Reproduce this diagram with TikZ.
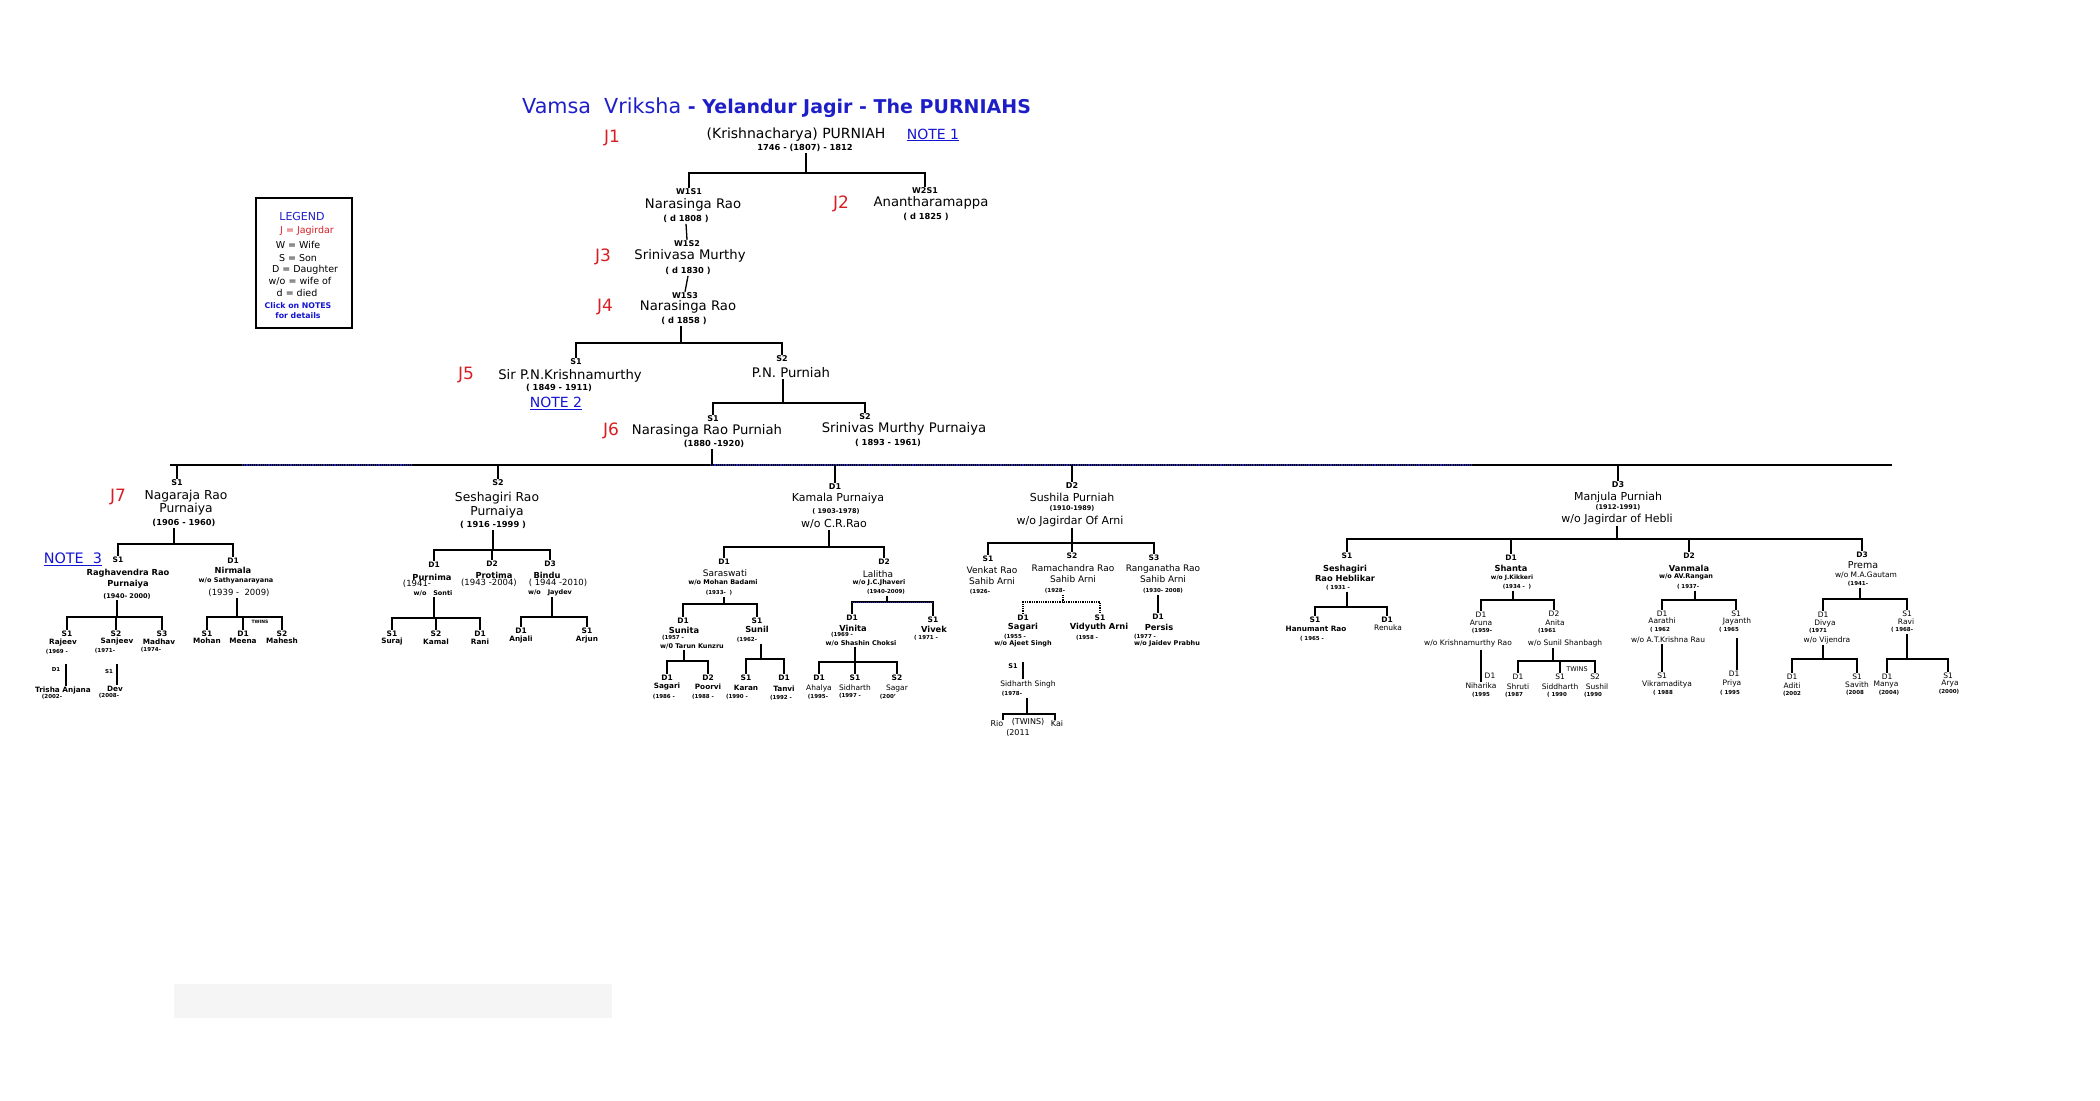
\documentclass[tikz,border=0pt]{standalone}
\usepackage{fontspec}
\setmainfont{DejaVu Sans}
\definecolor{ttlblue}{RGB}{30,30,200}
\definecolor{jred}{RGB}{215,30,35}
\definecolor{noteblue}{RGB}{20,20,210}
\definecolor{barblue}{RGB}{40,40,170}
\newcommand{\fsz}[1]{\fontsize{#1}{#1}\selectfont}
\tikzset{
  every node/.style={inner sep=1pt},
  ln/.style={line width=1.3pt},
  lnt/.style={line width=2.5pt},
  ttl/.style={text=ttlblue, font=\bfseries\fsz{19}},
  jg/.style={text=jred, font=\fsz{17}},
  note/.style={text=noteblue, font=\fsz{14}},
  lgd/.style={font=\fsz{9.5}},
  nmA/.style={font=\fsz{13.2}},
  tgA/.style={font=\bfseries\fsz{8}},
  yrA/.style={font=\bfseries\fsz{8.3}},
  nmB/.style={align=center, font=\fontsize{12.3}{13.5}\selectfont},
  nmK/.style={font=\fsz{11}},
  nmC/.style={align=center, font=\bfseries\fontsize{8.3}{11}\selectfont},
  nmR/.style={align=center, font=\fontsize{9}{11}\selectfont},
  tgB/.style={font=\bfseries\fsz{7.5}},
  yrB/.style={font=\bfseries\fsz{6.5}},
  wo/.style={font=\bfseries\fsz{6.5}},
  nmD/.style={font=\bfseries\fsz{7.3}},
  rgS/.style={font=\fsz{7.5}},
  yrC/.style={font=\bfseries\fsz{5.5}},
  dts/.style={font=\fsz{8.5}}
}
\begin{document}
\begin{tikzpicture}[x=1pt,y=-1pt]
\useasboundingbox (0,0) rectangle (2100,1100);
\fill[black!4] (174,984) rectangle (612,1018);

% title and J1
\node[ttl, anchor=west] (ttl) at (521,108) {{\mdseries\fsz{20.7}Vamsa\ \ Vriksha} - Yelandur Jagir - The PURNIAHS};
\node[jg] (j1) at (612,138) {J1};
\node[font=\fsz{14}] (k1) at (796,135) {(Krishnacharya) PURNIAH};
\node[note] (n1) at (933,135) {\underline{NOTE 1}};
\node[yrA] (k1y) at (805,148) {1746 - (1807) - 1812};
\coordinate (b1) at (806,173);

% legend
\draw[line width=2.5pt] (256,198) rectangle (352,328);
\node[text=ttlblue, font=\fsz{11}] (lg0) at (302,216) {LEGEND};
\node[lgd, text=jred] (lg1) at (307,231) {J = Jagirdar};
\node[lgd] (lg2) at (298,245) {W = Wife};
\node[lgd] (lg3) at (298,258) {S = Son};
\node[lgd] (lg4) at (305,270) {D = Daughter};
\node[lgd] (lg5) at (300,281) {w/o = wife of};
\node[lgd] (lg6) at (297,293) {d = died};
\node[text=noteblue, font=\bfseries\fsz{7.8}] (lg7) at (298,306) {Click on NOTES};
\node[text=noteblue, font=\bfseries\fsz{7.8}] (lg8) at (298,316) {for details};

% W1 line
\node[tgA] (w1s1) at (689,192) {W1S1};
\node[nmA] (nr1) at (693,205) {Narasinga Rao};
\node[yrA] (nr1y) at (686,219) {( d 1808 )};
\node[tgA] (w2s1) at (925,191) {W2S1};
\node[jg] (j2) at (841,204) {J2};
\node[nmA] (an) at (931,203) {Anantharamappa};
\node[yrA] (any) at (926,217) {( d 1825 )};
\draw[ln] (b1 |- k1y.south) -- (b1);
\draw[ln] (w1s1.north) |- (b1) -| (w2s1.north);

\node[tgA] (w1s2) at (687,244) {W1S2};
\node[jg] (j3) at (603,257) {J3};
\node[nmA] (sm) at (690,256) {Srinivasa Murthy};
\node[yrA] (smy) at (688,271) {( d 1830 )};
\draw[ln] (nr1y.south) -- (w1s2.north);

\node[tgA] (w1s3) at (685,296) {W1S3};
\node[jg] (j4) at (605,307) {J4};
\node[nmA] (nr2) at (688,307) {Narasinga Rao};
\node[yrA] (nr2y) at (684,321) {( d 1858 )};
\draw[ln] (smy.south) -- (w1s3.north);

\coordinate (b4) at (681,343);
\node[tgA] (j5s) at (576,362) {S1};
\node[tgA] (pns) at (782,359) {S2};
\draw[ln] (b4 |- nr2y.south) -- (b4);
\draw[ln] (j5s.north) |- (b4) -| (pns.north);
\node[jg] (j5) at (466,375) {J5};
\node[nmA] (pnk) at (570,376) {Sir P.N.Krishnamurthy};
\node[yrA] (pnky) at (559,388) {( 1849 - 1911)};
\node[note] (n2) at (556,403) {\underline{NOTE 2}};
\node[nmA] (pnp) at (791,373) {P.N. Purniah};

\coordinate (b5) at (783,403);
\node[tgA] (j6s) at (713,419) {S1};
\node[tgA] (smps) at (865,417) {S2};
\draw[ln] (b5 |- pnp.south) -- (b5);
\draw[ln] (j6s.north) |- (b5) -| (smps.north);
\node[jg] (j6) at (611,431) {J6};
\node[nmA] (nrp) at (707,431) {Narasinga Rao Purniah};
\node[yrA] (nrpy) at (714,444) {(1880 -1920)};
\node[nmA] (smp) at (904,429) {Srinivas Murthy Purnaiya};
\node[yrA] (smpy) at (888,443) {( 1893 - 1961)};

% main bar
\coordinate (b6) at (712,465);
\coordinate (bl) at (170,465);
\coordinate (br) at (1892,465);
\draw[lnt] (bl) -- (br);
\draw[barblue, line width=1.2pt, densely dotted] (242,465) -- (412,465);
\draw[barblue, line width=1.2pt, densely dotted] (710,465) -- (1472,465);
\draw[ln] (b6 |- nrpy.south) -- (b6);
\node[tgA] (j7s) at (177,483) {S1};
\node[tgA] (srs) at (498,483) {S2};
\node[tgA] (kms) at (835,487) {D1};
\node[tgA] (sus) at (1072,486) {D2};
\node[tgA] (mjs) at (1618,485) {D3};
\foreach \c in {j7s,srs,kms,sus,mjs}
  \draw[ln] (\c.north) -- (\c.north |- b6);

% J7 Nagaraja Rao
\node[jg] (j7) at (118,497) {J7};
\node[nmB] (ng) at (186,502.5) {Nagaraja Rao\\Purnaiya};
\node[yrA] (ngy) at (184,523) {(1906 - 1960)};
\coordinate (b7) at (174,544);
\node[tgB] (rgs) at (118,560) {S1};
\node[tgB] (nis) at (233,561) {D1};
\draw[lnt] (b7 |- ngy.south) -- (b7);
\draw[lnt] (rgs.north) |- (b7) -| (nis.north);
\node[note, font=\fsz{14.4}] (n3) at (73,559) {\underline{NOTE\ \ 3}};
\node[nmC] (rg) at (128,578.5) {Raghavendra Rao\\Purnaiya};
\node[yrB] (rgy) at (127,596) {(1940- 2000)};
\node[nmC] (ni) at (233,570) {Nirmala};
\node[wo] (niw) at (236,581) {w/o Sathyanarayana};
\node[dts] (niy) at (239,593) {(1939 -\ \ 2009)};

\coordinate (b8) at (117,617);
\node[tgB] (rjs) at (67,634) {S1};
\node[tgB] (sjs) at (116,634) {S2};
\node[tgB] (mds) at (162,634) {S3};
\draw[lnt] (b8 |- rgy.south) -- (b8);
\draw[lnt] (rjs.north) |- (b8) -| (mds.north);
\draw[lnt] (sjs.north) -- (sjs.north |- b8);
\node[nmD] (rj) at (63,643) {Rajeev};
\node[nmD] (sj) at (117,642) {Sanjeev};
\node[nmD] (md) at (159,642) {Madhav};
\node[yrC] (rjy) at (57,652) {(1969 -};
\node[yrC] (sjy) at (105,651) {(1971-};
\node[yrC] (mdy) at (151,650) {(1974-};
\coordinate (trc) at (66,664);
\node[yrC] (trs) at (56,669) {D1};
\node[nmD] (tr) at (63,691) {Trisha Anjana};
\node[yrC] (try) at (52,697) {(2002-};
\draw[lnt] (trc) -- (trc |- tr.north);
\coordinate (dvc) at (117,664);
\node[yrC] (dvs) at (109,671) {S1};
\node[nmD] (dv) at (115,689) {Dev};
\node[yrC] (dvy) at (109,696) {(2008-};
\draw[lnt] (dvc) -- (dvc |- dv.north);

\coordinate (b9) at (237,617);
\node[tgB] (mhs) at (207,634) {S1};
\node[tgB] (mes) at (243,634) {D1};
\node[tgB] (mas) at (282,634) {S2};
\draw[lnt] (b9 |- niy.south) -- (b9);
\draw[lnt] (mhs.north) |- (b9) -| (mas.north);
\draw[lnt] (mes.north) -- (mes.north |- b9);
\node[font=\bfseries\fsz{4.5}] (twn1) at (260,622) {TWINS};
\node[nmD] (mh) at (207,641) {Mohan};
\node[nmD] (me) at (243,641) {Meena};
\node[nmD] (ma) at (282,641) {Mahesh};

% S2 Seshagiri Rao
\node[nmB] (sr) at (497,505) {Seshagiri Rao\\Purnaiya};
\node[yrA] (sry) at (493,525) {( 1916 -1999 )};
\coordinate (b10) at (493,550);
\node[tgB] (pus) at (434,565) {D1};
\node[tgB] (prs) at (492,564) {D2};
\node[tgB] (bis) at (550,564) {D3};
\draw[lnt] (b10 |- sry.south) -- (b10);
\draw[lnt] (pus.north) |- (b10) -| (bis.north);
\draw[lnt] (prs.north) -- (prs.north |- b10);
\node[nmC] (pu) at (432,577) {Purnima};
\node[nmC] (pr) at (494,575) {Protima};
\node[nmC] (bi) at (547,575) {Bindu};
\node[dts] (puy) at (417,584) {(1941-};
\node[dts] (pry) at (489,583) {(1943 -2004)};
\node[dts] (biy) at (558,583) {( 1944 -2010)};
\node[wo] (puw) at (433,593) {w/o\ \ \ Sonti};
\node[wo] (biw) at (550,593) {w/o\ \ \ Jaydev};

\coordinate (b11) at (434,618);
\node[tgB] (srjs) at (392,634) {S1};
\node[tgB] (kas) at (436,634) {S2};
\node[tgB] (ras) at (480,634) {D1};
\draw[lnt] (b11 |- puw.south) -- (b11);
\draw[lnt] (srjs.north) |- (b11) -| (ras.north);
\draw[lnt] (kas.north) -- (kas.north |- b11);
\node[nmD] (srj) at (392,642) {Suraj};
\node[nmD] (ka) at (436,642) {Kamal};
\node[nmD] (ra) at (480,642) {Rani};

\coordinate (b12) at (552,617);
\node[tgB] (ajs) at (521,631) {D1};
\node[tgB] (ars) at (587,631) {S1};
\draw[lnt] (b12 |- biw.south) -- (b12);
\draw[lnt] (ajs.north) |- (b12) -| (ars.north);
\node[nmD] (aj) at (521,640) {Anjali};
\node[nmD] (ar) at (587,640) {Arjun};

% D1 Kamala
\node[nmK] (km) at (838,498) {Kamala Purnaiya};
\node[yrB] (kmy) at (836,511) {( 1903-1978)};
\node[nmK] (kmw) at (834,524) {w/o C.R.Rao};
\coordinate (b13) at (829,547);
\node[tgB] (sas) at (724,562) {D1};
\node[tgB] (las) at (884,562) {D2};
\draw[lnt] (b13 |- kmw.south) -- (b13);
\draw[lnt] (sas.north) |- (b13) -| (las.north);
\node[nmR] (sa) at (725,573) {Saraswati};
\node[wo] (saw) at (723,582) {w/o Mohan Badami};
\node[yrC] (say) at (719,593) {(1933-\ \ )};
\node[nmR] (la) at (878,574) {Lalitha};
\node[wo] (law) at (879,583) {w/o J.C.Jhaveri};
\node[yrC] (lay) at (886,592) {(1940-2009)};

\coordinate (b14) at (724,604);
\node[tgB] (sns) at (683,621) {D1};
\node[tgB] (sls) at (757,621) {S1};
\draw[lnt] (b14 |- say.south) -- (b14);
\draw[lnt] (sns.north) |- (b14) -| (sls.north);
\node[nmC] (sn) at (684,630) {Sunita};
\node[yrC] (sny) at (673,638) {(1957 -};
\node[wo] (snw) at (692,646) {w/0 Tarun Kunzru};
\node[nmC] (sl) at (757,629) {Sunil};
\node[yrC] (sly) at (747,640) {(1962-};

\coordinate (b15) at (684,661);
\node[tgB] (sgs) at (667,678) {D1};
\node[tgB] (pos) at (708,678) {D2};
\draw[lnt] (b15 |- snw.south) -- (b15);
\draw[lnt] (sgs.north) |- (b15) -| (pos.north);
\node[nmD] (sg) at (667,687) {Sagari};
\node[nmD] (po) at (708,687) {Poorvi};
\node[yrC] (sgy) at (664,697) {(1986 -};
\node[yrC] (poy) at (703,697) {(1988 -};

\coordinate (b16) at (761,659);
\node[tgB] (krs) at (746,678) {S1};
\node[tgB] (tas) at (784,678) {D1};
\draw[lnt] (b16 |- sly.south) -- (b16);
\draw[lnt] (krs.north) |- (b16) -| (tas.north);
\node[nmD] (kr) at (746,688) {Karan};
\node[nmD] (ta) at (784,689) {Tanvi};
\node[yrC] (kry) at (737,697) {(1990 -};
\node[yrC] (tay) at (781,698) {(1992 -};

\coordinate (b17) at (887,602);
\node[tgB] (vns) at (852,618) {D1};
\node[tgB] (vks) at (933,620) {S1};
\draw[lnt] (b17 |- lay.south) -- (b17);
\draw[lnt] (vns.north) |- (b17) -| (vks.north);
\draw[barblue, line width=1pt, densely dotted] (vns.north |- b17) -- (vks.north |- b17);
\node[nmC] (vn) at (853,628) {Vinita};
\node[yrC] (vny) at (842,635) {(1969 -};
\node[wo] (vnw) at (861,643) {w/o Shashin Choksi};
\node[nmC] (vk) at (934,629) {Vivek};
\node[yrC] (vky) at (926,638) {( 1971 -};

\coordinate (b18) at (855,662);
\node[tgB] (ahs) at (819,678) {D1};
\node[tgB] (sds) at (855,678) {S1};
\node[tgB] (sgrs) at (897,678) {S2};
\draw[lnt] (b18 |- vnw.south) -- (b18);
\draw[lnt] (ahs.north) |- (b18) -| (sgrs.north);
\draw[lnt] (sds.north) -- (sds.north |- b18);
\node[rgS] (ah) at (819,688) {Ahalya};
\node[rgS] (sd) at (855,688) {Sidharth};
\node[rgS] (sgr) at (897,688) {Sagar};
\node[yrC] (ahy) at (818,697) {(1995-};
\node[yrC] (sdy) at (850,696) {(1997 -};
\node[yrC] (sgry) at (888,697) {(200'};

% D2 Sushila
\node[nmK] (su) at (1072,497) {Sushila Purniah};
\node[yrB] (suy) at (1072,508) {(1910-1989)};
\node[nmK] (suw) at (1070,521) {w/o Jagirdar Of Arni};
\coordinate (b19) at (1072,543);
\node[tgB] (vrs) at (988,559) {S1};
\node[tgB] (rcs) at (1072,556) {S2};
\node[tgB] (rns) at (1154,558) {S3};
\draw[ln] (b19 |- suw.south) -- (b19);
\draw[ln] (vrs.north) |- (b19) -| (rns.north);
\draw[ln] (rcs.north) -- (rcs.north |- b19);
\node[nmR] (vr) at (992,575.5) {Venkat Rao\\Sahib Arni};
\node[nmR] (rc) at (1073,573.5) {Ramachandra Rao\\Sahib Arni};
\node[nmR] (rn) at (1163,573.5) {Ranganatha Rao\\Sahib Arni};
\node[yrC] (vry) at (980,592) {(1926-};
\node[yrC] (rcy) at (1055,591) {(1928-};
\node[yrC] (rny) at (1163,591) {(1930- 2008)};

\coordinate (b20) at (1063,602);
\node[tgB] (sg2s) at (1023,618) {D1};
\node[tgB] (vds) at (1100,618) {S1};
\draw[ln, densely dotted] (b20 |- rcy.south) -- (b20);
\draw[ln, densely dotted] (sg2s.north) |- (b20) -| (vds.north);
\node[nmC] (sg2) at (1023,627) {Sagari};
\node[yrC] (sg2y) at (1015,637) {(1955 -};
\node[wo] (sg2w) at (1023,644) {w/o Ajeet Singh};
\node[nmC] (vd) at (1099,627) {Vidyuth Arni};
\node[yrC] (vdy) at (1087,638) {(1958 -};

\node[tgB] (pes) at (1158,617) {D1};
\draw[lnt] (rny.south -| pes.north) -- (pes.north);
\node[nmC] (pe) at (1159,627) {Persis};
\node[yrC] (pey) at (1145,637) {(1977 -};
\node[wo] (pew) at (1167,644) {w/o Jaidev Prabhu};

\coordinate (ssc) at (1023,662);
\node[yrB] (sss) at (1013,666) {S1};
\node[rgS] (ss) at (1028,684) {Sidharth Singh};
\node[yrC] (ssy) at (1012,694) {(1978-};
\draw[lnt] (ssc) -- (ssc |- ss.north);
\coordinate (b21) at (1027,714);
\coordinate (rioc) at (1003,720);
\coordinate (kaic) at (1055,720);
\draw[lnt] (b21 |- ssy.south) -- (b21);
\draw[lnt] (rioc) |- (b21) -| (kaic);
\node[font=\fsz{8}] (rio) at (997,724) {Rio};
\node[font=\fsz{8}] (twn2) at (1028,722) {(TWINS)};
\node[font=\fsz{8}] (kai) at (1057,724) {Kai};
\node[font=\fsz{8}] (rioy) at (1018,733) {(2011};

% D3 Manjula
\node[nmK] (mj) at (1618,497) {Manjula Purniah};
\node[yrB] (mjy) at (1618,507) {(1912-1991)};
\node[nmK] (mjw) at (1617,519) {w/o Jagirdar of Hebli};
\coordinate (b22) at (1617,539);
\node[tgB] (shs) at (1347,556) {S1};
\node[tgB] (sts) at (1511,558) {D1};
\node[tgB] (vms) at (1689,556) {D2};
\node[tgB] (pms) at (1862,555) {D3};
\draw[lnt] (b22 |- mjw.south) -- (b22);
\draw[lnt] (shs.north) |- (b22) -| (pms.north);
\draw[lnt] (sts.north) -- (sts.north |- b22);
\draw[lnt] (vms.north) -- (vms.north |- b22);

\node[nmC, font=\bfseries\fontsize{8.3}{10}\selectfont] (sh) at (1345,573) {Seshagiri\\Rao Heblikar};
\node[yrC] (shy) at (1338,588) {( 1931 -};
\coordinate (b23) at (1347,607);
\node[tgB] (hrs) at (1315,620) {S1};
\node[tgB] (rks) at (1387,620) {D1};
\draw[lnt] (b23 |- shy.south) -- (b23);
\draw[lnt] (hrs.north) |- (b23) -| (rks.north);
\node[nmD] (hr) at (1316,629) {Hanumant Rao};
\node[yrC] (hry) at (1312,639) {( 1965 -};
\node[rgS] (rk) at (1388,628) {Renuka};

\node[nmC] (st) at (1511,568) {Shanta};
\node[wo, font=\bfseries\fsz{6}] (stw) at (1512,578) {w/o J.Kikkeri};
\node[yrC] (sty) at (1517,587) {(1934 -\ \ )};
\coordinate (b24) at (1513,600);
\node[rgS] (aus) at (1481,615) {D1};
\node[rgS] (ans) at (1554,614) {D2};
\draw[lnt] (b24 |- sty.south) -- (b24);
\draw[lnt] (aus.north) |- (b24) -| (ans.north);
\node[rgS] (au) at (1481,623) {Aruna};
\node[yrC] (auy) at (1482,631) {(1959-};
\node[rgS] (auw) at (1468,643) {w/o Krishnamurthy Rao};
\node[rgS] (an2) at (1555,623) {Anita};
\node[yrC] (an2y) at (1547,631) {(1961};
\node[rgS] (an2w) at (1565,643) {w/o Sunil Shanbagh};

\coordinate (nhc) at (1481,650);
\node[rgS] (nhs) at (1490,676) {D1};
\node[rgS] (nh) at (1481,686) {Niharika};
\node[yrC] (nhy) at (1481,695) {(1995};
\draw[lnt] (nhc) -- (nhc |- nh.north);

\coordinate (b25) at (1553,661);
\node[rgS] (srs2) at (1518,677) {D1};
\node[rgS] (sis) at (1560,677) {S1};
\node[rgS] (shls) at (1595,677) {S2};
\draw[lnt] (b25 |- an2w.south) -- (b25);
\draw[lnt] (srs2.north) |- (b25) -| (shls.north);
\draw[lnt] (sis.north) -- (sis.north |- b25);
\node[font=\fsz{6.5}] (twn3) at (1577,669) {TWINS};
\node[rgS] (sr2) at (1518,687) {Shruti};
\node[rgS] (si) at (1560,687) {Siddharth};
\node[rgS] (shl) at (1597,687) {Sushil};
\node[yrC] (sr2y) at (1514,695) {(1987};
\node[yrC] (siy) at (1557,695) {( 1990};
\node[yrC] (shly) at (1593,695) {(1990};

\node[nmC] (vm) at (1689,568) {Vanmala};
\node[wo] (vmw) at (1686,577) {w/o AV.Rangan};
\node[yrC] (vmy) at (1688,587) {( 1937-};
\coordinate (b26) at (1695,600);
\node[rgS] (aas) at (1662,614) {D1};
\node[rgS] (jys) at (1736,614) {S1};
\draw[lnt] (b26 |- vmy.south) -- (b26);
\draw[lnt] (aas.north) |- (b26) -| (jys.north);
\node[rgS] (aa) at (1662,621) {Aarathi};
\node[yrC] (aay) at (1660,630) {( 1962};
\node[rgS] (aaw) at (1668,640) {w/o A.T.Krishna Rau};
\node[rgS] (jy) at (1737,621) {Jayanth};
\node[yrC] (jyy) at (1729,630) {( 1965};

\node[rgS] (vks2) at (1662,676) {S1};
\node[rgS] (vk2) at (1667,684) {Vikramaditya};
\node[yrC] (vk2y) at (1663,693) {( 1988};
\draw[lnt] (aaw.south -| vks2.north) -- (vks2.north);
\coordinate (pyc) at (1737,638);
\node[rgS] (pys) at (1734,674) {D1};
\node[rgS] (py) at (1732,683) {Priya};
\node[yrC] (pyy) at (1730,693) {( 1995};
\draw[lnt] (pyc) -- (pyc |- pys.north);

\node[font=\fsz{9.5}] (pm) at (1863,565) {Prema};
\node[rgS] (pmw) at (1866,575) {w/o M.A.Gautam};
\node[yrC] (pmy) at (1858,584) {(1941-};
\coordinate (b27) at (1860,599);
\node[rgS] (dvs2) at (1823,615) {D1};
\node[rgS] (rvs) at (1907,614) {S1};
\draw[lnt] (b27 |- pmy.south) -- (b27);
\draw[lnt] (dvs2.north) |- (b27) -| (rvs.north);
\node[rgS] (dv2) at (1825,623) {Divya};
\node[yrC] (dv2y) at (1818,631) {(1971};
\node[rgS] (dv2w) at (1827,640) {w/o Vijendra};
\node[rgS] (rv) at (1906,622) {Ravi};
\node[yrC] (rvy) at (1902,630) {( 1968-};

\coordinate (b28) at (1823,659);
\node[rgS] (ads) at (1792,677) {D1};
\node[rgS] (svs) at (1857,677) {S1};
\draw[lnt] (b28 |- dv2w.south) -- (b28);
\draw[lnt] (ads.north) |- (b28) -| (svs.north);
\node[rgS] (ad) at (1792,686) {Aditi};
\node[rgS] (sv) at (1857,685) {Savith};
\node[yrC] (ady) at (1792,694) {(2002};
\node[yrC] (svy) at (1855,693) {(2008};

\coordinate (b29) at (1907,659);
\node[rgS] (mns) at (1887,677) {D1};
\node[rgS] (ays) at (1948,676) {S1};
\draw[lnt] (b29 |- rvy.south) -- (b29);
\draw[lnt] (mns.north) |- (b29) -| (ays.north);
\node[rgS] (mn) at (1886,685) {Manya};
\node[rgS] (ay) at (1950,684) {Arya};
\node[yrC] (mny) at (1889,693) {(2004)};
\node[yrC] (ayy) at (1949,692) {(2000)};
\end{tikzpicture}
\end{document}
